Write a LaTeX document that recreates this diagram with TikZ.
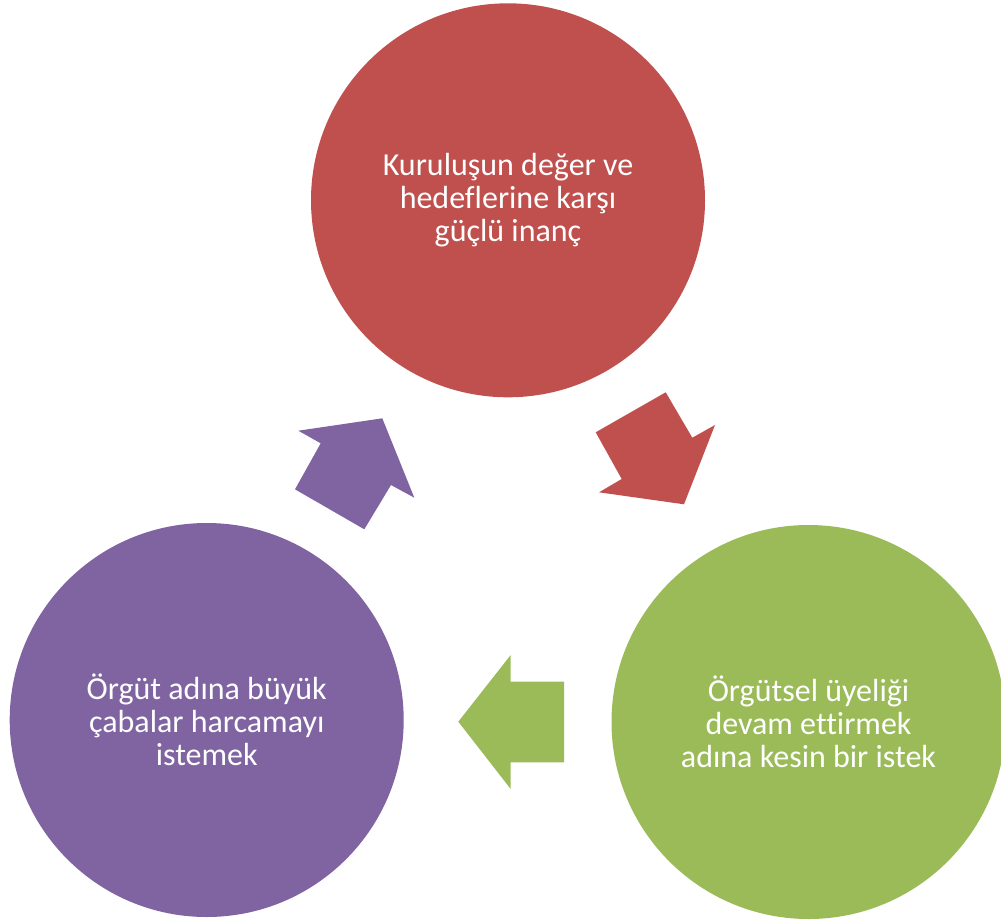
\documentclass[tikz,border=0pt]{standalone}
\usepackage{fontspec}
\setmainfont[Ligatures=NoCommon]{Carlito}
\definecolor{cred}{HTML}{C0504D}
\definecolor{cgreen}{HTML}{9BBB59}
\definecolor{cpurple}{HTML}{8064A2}
\tikzset{
  disc/.style={circle, minimum size=394pt, inner sep=0pt, text=white, align=center,
    font=\fontsize{32}{33}\selectfont},
}
\begin{document}
\begin{tikzpicture}[x=1pt,y=-1pt]
\useasboundingbox (0,0) rectangle (1001,921);
\node[disc, fill=cred] (top) at (508,200.3) {Kuruluşun değer ve\\hedeflerine karşı\\güçlü inanç};
\node[disc, fill=cgreen] (right) at (808.5,722) {Örgütsel üyeliği\\devam ettirmek\\adına kesin bir istek};
\node[disc, fill=cpurple] (left) at (206.7,720) {Örgüt adına büyük\\çabalar harcamayı\\istemek};
% red arrow
\fill[cred] (595.7,432.3) -- (665.7,392.3) -- (692.3,437.7) -- (715,425) -- (684,504.3) -- (599,492.3) -- (621.7,479) -- cycle;
% green arrow
\fill[cgreen] (458.3,721.7) -- (510.7,655) -- (510.7,681.7) -- (564,681.7) -- (564,762.3) -- (510.7,762.3) -- (510.7,789) -- cycle;
% purple arrow
\fill[cpurple] (298.3,430.7) -- (382.3,418.3) -- (414.3,497.7) -- (391,485) -- (364.3,529.3) -- (295,489.3) -- (320.7,443.3) -- cycle;
\end{tikzpicture}
\end{document}
